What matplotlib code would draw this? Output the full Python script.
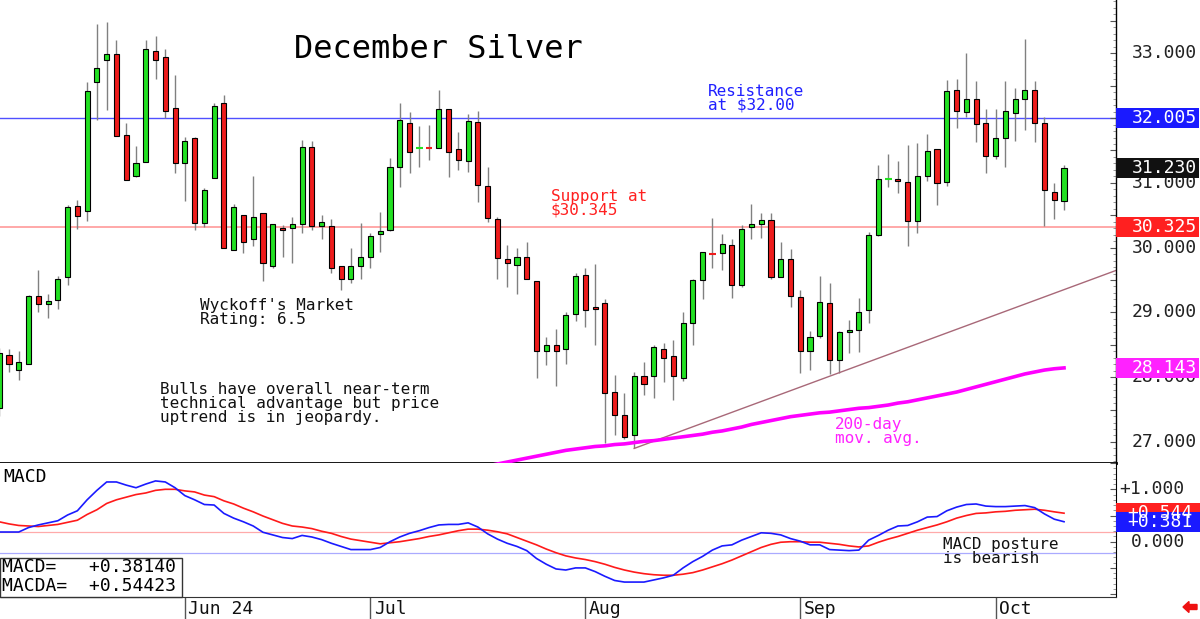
import matplotlib
matplotlib.use("Agg")
import matplotlib.pyplot as plt
from matplotlib.patches import Rectangle, FancyArrow
from matplotlib.ticker import MultipleLocator
from matplotlib.transforms import blended_transform_factory

# daily OHLC, one candle per trading day (early May .. Oct 10)
opens = [27.52, 28.34, 28.11, 28.21, 29.26, 29.13, 29.19, 29.55, 30.64, 30.56,
         32.56, 32.89, 32.99, 31.74, 31.10, 31.32, 33.04, 32.95, 32.16, 31.31,
         31.70, 30.38, 31.08, 32.23, 29.97, 30.50, 30.13, 30.54, 29.72, 30.31,
         30.30, 30.37, 31.56, 30.33, 30.34, 29.71, 29.51, 29.72, 29.86, 30.21,
         30.27, 31.25, 31.92, 31.54, 31.545, 31.54, 32.14, 31.52, 31.34, 31.94,
         30.95, 30.44, 29.82, 29.73, 29.86, 29.48, 28.40, 28.49, 28.44, 28.97,
         29.57, 29.08, 29.14, 27.77, 27.41, 27.10, 28.02, 28.02, 28.44, 28.33,
         27.99, 28.84, 29.50, 29.905, 29.91, 30.04, 29.42, 30.32, 30.37, 30.42,
         29.55, 29.83, 29.24, 28.40, 28.64, 29.15, 28.27, 28.69, 28.73, 29.03,
         30.19, 31.06, 31.06, 31.01, 30.41, 31.10, 31.53, 31.02, 32.43, 32.10,
         32.29, 31.93, 31.42, 31.70, 32.08, 32.30, 32.43, 31.93, 30.86, 30.72]
highs = [28.45, 28.43, 28.40, 29.27, 29.66, 29.28, 29.56, 30.66, 30.73, 32.56,
         33.45, 33.48, 33.20, 31.92, 31.57, 33.21, 33.27, 33.07, 32.67, 31.71,
         31.71, 30.92, 32.24, 32.35, 30.68, 30.51, 31.10, 30.54, 30.37, 30.35,
         30.48, 31.66, 31.65, 30.51, 30.44, 29.71, 29.99, 30.38, 30.22, 30.55,
         31.39, 32.24, 32.09, 31.88, 31.89, 32.44, 32.14, 31.78, 32.07, 32.11,
         31.25, 30.48, 30.04, 30.00, 30.08, 29.48, 28.62, 28.75, 29.00, 29.61,
         29.69, 29.74, 29.21, 28.04, 27.75, 28.08, 28.24, 28.50, 28.53, 28.58,
         29.00, 29.51, 29.94, 30.46, 30.21, 30.13, 30.35, 30.67, 30.54, 30.54,
         30.08, 29.98, 29.35, 28.71, 29.56, 29.46, 28.71, 28.89, 29.22, 30.24,
         31.28, 31.45, 31.34, 31.58, 31.61, 31.75, 31.53, 32.59, 32.60, 33.00,
         32.58, 32.14, 32.14, 32.58, 32.47, 33.22, 32.58, 32.01, 31.00, 31.27]
lows = [27.40, 28.08, 27.95, 28.20, 29.00, 28.92, 29.05, 29.42, 30.28, 30.41,
        31.97, 32.12, 31.73, 31.04, 31.09, 31.32, 32.60, 32.00, 31.15, 30.72,
        30.27, 30.32, 31.08, 29.99, 29.96, 29.91, 30.02, 29.48, 29.69, 29.86,
        29.76, 30.22, 30.27, 30.13, 29.61, 29.35, 29.45, 29.52, 29.68, 29.93,
        30.26, 30.94, 31.15, 31.24, 31.36, 31.54, 31.09, 31.20, 31.17, 30.71,
        30.39, 29.51, 29.39, 29.29, 29.51, 27.98, 28.19, 27.86, 28.20, 28.86,
        28.78, 28.50, 26.99, 27.11, 27.05, 26.90, 27.73, 27.68, 27.93, 27.65,
        27.94, 28.49, 29.21, 29.69, 29.65, 29.22, 29.39, 30.13, 30.15, 29.51,
        29.55, 29.09, 28.07, 28.11, 28.61, 28.05, 28.07, 28.37, 28.39, 28.84,
        30.18, 30.93, 30.85, 30.03, 30.22, 31.03, 30.66, 30.95, 31.85, 32.02,
        31.63, 31.15, 31.37, 31.25, 31.64, 31.82, 31.63, 30.33, 30.44, 30.58]
closes = [28.38, 28.20, 28.24, 29.26, 29.13, 29.18, 29.51, 30.62, 30.49, 32.42,
          32.78, 32.99, 31.73, 31.05, 31.30, 33.06, 32.89, 32.11, 31.30, 31.64,
          30.38, 30.89, 32.19, 29.99, 30.62, 30.09, 30.47, 29.77, 30.36, 30.27,
          30.37, 31.55, 30.34, 30.39, 29.68, 29.52, 29.71, 29.86, 30.18, 30.25,
          31.25, 31.97, 31.47, 31.545, 31.54, 32.14, 31.48, 31.35, 31.96, 30.96,
          30.46, 29.84, 29.77, 29.85, 29.51, 28.40, 28.49, 28.40, 28.96, 29.56,
          29.04, 29.05, 27.76, 27.42, 27.07, 28.02, 27.90, 28.46, 28.30, 28.02,
          28.84, 29.50, 29.93, 29.90, 30.05, 29.42, 30.29, 30.37, 30.43, 29.55,
          29.83, 29.25, 28.40, 28.62, 29.16, 28.27, 28.70, 28.73, 29.00, 30.20,
          31.06, 31.065, 31.03, 30.41, 31.10, 31.49, 31.00, 32.42, 32.11, 32.29,
          31.91, 31.42, 31.70, 32.11, 32.29, 32.43, 31.93, 30.89, 30.73, 31.23]

# 200-day moving average, from candle 50 on (earlier values sit below the panel)
ma_start = 50
ma200 = [26.63, 26.66, 26.69, 26.72, 26.75, 26.78, 26.81, 26.84, 26.87, 26.89,
         26.91, 26.93, 26.94, 26.96, 26.97, 26.99, 27.01, 27.02, 27.04, 27.06,
         27.08, 27.10, 27.12, 27.15, 27.17, 27.20, 27.23, 27.27, 27.30, 27.33,
         27.36, 27.39, 27.41, 27.43, 27.45, 27.46, 27.48, 27.50, 27.52, 27.53,
         27.55, 27.57, 27.60, 27.62, 27.65, 27.68, 27.71, 27.74, 27.77, 27.81,
         27.85, 27.89, 27.93, 27.97, 28.01, 28.05, 28.08, 28.11, 28.13, 28.143]

macd = [0.185, 0.185, 0.185, 0.27, 0.32, 0.36, 0.40, 0.51, 0.59, 0.80,
        0.98, 1.14, 1.14, 1.08, 1.03, 1.10, 1.16, 1.14, 1.03, 0.88,
        0.80, 0.71, 0.70, 0.54, 0.45, 0.38, 0.30, 0.18, 0.13, 0.08,
        0.06, 0.12, 0.09, 0.04, -0.03, -0.09, -0.15, -0.15, -0.15, -0.11,
        0.00, 0.09, 0.16, 0.21, 0.27, 0.32, 0.33, 0.33, 0.36, 0.28,
        0.15, 0.05, -0.03, -0.09, -0.17, -0.32, -0.43, -0.52, -0.54, -0.50,
        -0.50, -0.57, -0.66, -0.74, -0.77, -0.77, -0.77, -0.73, -0.69, -0.64,
        -0.50, -0.38, -0.28, -0.16, -0.08, -0.06, 0.03, 0.10, 0.17, 0.16,
        0.13, 0.06, 0.01, -0.06, -0.06, -0.15, -0.16, -0.17, -0.16, 0.03,
        0.12, 0.22, 0.30, 0.31, 0.38, 0.47, 0.48, 0.59, 0.66, 0.71,
        0.72, 0.68, 0.67, 0.67, 0.68, 0.69, 0.65, 0.53, 0.43, 0.3814]
macda = [0.38, 0.34, 0.31, 0.30, 0.29, 0.31, 0.33, 0.37, 0.41, 0.52,
         0.61, 0.73, 0.80, 0.85, 0.90, 0.93, 0.98, 1.00, 1.00, 0.97,
         0.95, 0.89, 0.86, 0.78, 0.72, 0.64, 0.57, 0.49, 0.42, 0.35,
         0.30, 0.28, 0.25, 0.20, 0.16, 0.10, 0.05, 0.02, -0.01, -0.04,
         -0.02, 0.00, 0.03, 0.06, 0.10, 0.13, 0.17, 0.21, 0.24, 0.24,
         0.22, 0.19, 0.15, 0.08, 0.01, -0.06, -0.14, -0.21, -0.27, -0.31,
         -0.34, -0.38, -0.43, -0.49, -0.54, -0.58, -0.61, -0.63, -0.64, -0.64,
         -0.62, -0.59, -0.54, -0.48, -0.42, -0.35, -0.27, -0.19, -0.11, -0.05,
         -0.01, 0.00, 0.00, -0.01, -0.01, -0.03, -0.05, -0.08, -0.10, -0.08,
         -0.01, 0.05, 0.10, 0.16, 0.22, 0.27, 0.32, 0.38, 0.45, 0.50,
         0.54, 0.55, 0.57, 0.58, 0.60, 0.61, 0.62, 0.60, 0.57, 0.54423]

month_pos = [19, 38, 60, 82, 102]
month_labels = ["Jun 24", "Jul", "Aug", "Sep", "Oct"]

resistance = 32.005
support = 30.325
trend_a, trend_b = 65, 86      # trend line drawn through these candle lows
price_labels = [27, 28, 29, 30, 31, 33]   # 32 sits under the resistance box
macd_labels = [1.0, 0.0]
macd_upper, macd_lower = 0.19, -0.22

W, H = 1200, 619
MONO = "DejaVu Sans Mono"
plt.rcParams["font.family"] = MONO

fig = plt.figure(figsize=(W / 100, H / 100), dpi=100)
fig.patch.set_facecolor("white")
ax = fig.add_axes([0, 156 / H, 1116 / W, 463 / H])
mx = fig.add_axes([0, 22 / H, 1116 / W, 134 / H])


def fx(px):
    return px / W


def fy(py):
    return 1 - py / H


# ---- price panel ----
n = len(closes)
xs = list(range(n))
up_col, dn_col = "#22e022", "#ee1c1c"
ax.vlines(xs, lows, highs, color="#808080", lw=1, zorder=2)
bx, bh, bb, bc, dx, dy, dc = [], [], [], [], [], [], []
for i in xs:
    o, c = opens[i], closes[i]
    col = up_col if c >= o else dn_col
    if abs(c - o) < 0.012:
        dx.append(i); dy.append(o); dc.append(col)
    else:
        bx.append(i); bh.append(abs(c - o)); bb.append(min(o, c)); bc.append(col)
ax.bar(bx, bh, bottom=bb, width=0.52, color=bc, edgecolor="black", lw=0.8, zorder=3)
for x, y, c in zip(dx, dy, dc):
    ax.hlines(y, x - 0.35, x + 0.35, color=c, lw=1.5, zorder=3)

ax.axhline(resistance, color="#5050ff", lw=1, zorder=1)
ax.axhline(support, color="#ff9a9a", lw=1.2, zorder=1)

slope = (lows[trend_b] - lows[trend_a]) / (trend_b - trend_a)
tx = [trend_a, 116]
ax.plot(tx, [lows[trend_a] + slope * (t - trend_a) for t in tx], color="#a86878", lw=1, zorder=2)

ax.plot(range(ma_start, ma_start + len(ma200)), ma200, color="#ff00ff", lw=2.6, zorder=4)

ax.set_xlim(0.08, 114.32)
ax.set_ylim(26.675, 33.823)
for s in ("top", "left"):
    ax.spines[s].set_visible(False)
ax.spines["bottom"].set_linewidth(2)
ax.spines["right"].set_linewidth(1)
ax.set_xticks([])
ax.yaxis.tick_right()
ax.yaxis.set_major_locator(MultipleLocator(0.5))
ax.yaxis.set_minor_locator(MultipleLocator(0.1))
ax.tick_params(axis="y", which="major", direction="in", length=4, labelright=False, color="#555555")
ax.tick_params(axis="y", which="minor", direction="in", length=2, color="#888888")

ty = blended_transform_factory(fig.transFigure, ax.transData)
for v in price_labels:
    ax.text(1197 / W, v, f"{v:.3f}", transform=ty, ha="right", va="center",
            fontsize=13, color="#222222", clip_on=False)

box_h = 0.31
for v, col in [(resistance, "#1a1aff"), (closes[-1], "#111111"),
               (support, "#ff2020"), (ma200[-1], "#ff22ff")]:
    ax.add_patch(Rectangle((1116 / W, v - box_h / 2), 83 / W, box_h, transform=ty,
                           facecolor=col, edgecolor="none", clip_on=False, zorder=6))
    ax.text(1197 / W, v, f"{v:.3f}", transform=ty, ha="right", va="center",
            fontsize=13, color="white", clip_on=False, zorder=7)

# ---- MACD panel ----
mx.plot(xs, macda, color="#ff1a1a", lw=1.2, zorder=3)
mx.plot(xs, macd, color="#1a1aff", lw=1.2, zorder=4)
mx.axhline(macd_upper, color="#ffaaaa", lw=0.9, zorder=1)
mx.axhline(macd_lower, color="#aaaaff", lw=0.9, zorder=1)
mx.set_xlim(0.08, 114.32)
mx.set_ylim(-1.055, 1.502)
for s in ("top", "left"):
    mx.spines[s].set_visible(False)
mx.spines["bottom"].set_color("#333333")
mx.yaxis.tick_right()
mx.yaxis.set_major_locator(MultipleLocator(0.5))
mx.yaxis.set_minor_locator(MultipleLocator(0.1))
mx.tick_params(axis="y", which="major", direction="in", length=4, labelright=False, color="#555555")
mx.tick_params(axis="y", which="minor", direction="in", length=2, color="#888888")
mx.set_xticks(month_pos)
mx.set_xticklabels([])
mx.tick_params(axis="x", direction="out", length=16, color="#555555", width=1)

mt = blended_transform_factory(fig.transFigure, mx.transData)
for v in macd_labels:
    mx.text(1185 / W, v, f"{v:+.3f}" if v else f"{v:.3f}", transform=mt, ha="right",
            va="center", fontsize=13, color="#222222", clip_on=False)
mbox = 0.38
for v, col in [(macda[-1], "#ff2020"), (macd[-1], "#1a1aff")]:
    mx.add_patch(Rectangle((1116 / W, v - mbox / 2), 84 / W, mbox, transform=mt,
                           facecolor=col, edgecolor="none", clip_on=False, zorder=6))
    mx.text(1192 / W, v, f"{v:+.3f}", transform=mt, ha="right", va="center",
            fontsize=13, color="white", clip_on=False, zorder=7)

dt = blended_transform_factory(mx.transData, fig.transFigure)
for p, lab in zip(month_pos, month_labels):
    mx.text(p + 0.35, fy(609), lab, transform=dt, ha="left", va="center",
            fontsize=13, color="#111111", clip_on=False)

# MACD readout box
fig.add_artist(Rectangle((0, fy(597)), fx(182), (597 - 557.5) / H, transform=fig.transFigure,
                         facecolor="white", edgecolor="#333333", lw=1))
fig.text(fx(2), fy(567), f"MACD=   {macd[-1]:+.5f}", fontsize=13, va="center", ha="left")
fig.text(fx(2), fy(586), f"MACDA=  {macda[-1]:+.5f}", fontsize=13, va="center", ha="left")
fig.text(fx(3), fy(477), "MACD", fontsize=13, va="center", ha="left")

# ---- annotations ----
fig.text(fx(438), fy(49), "December Silver", fontsize=23, ha="center", va="center")
kw = dict(fontsize=11.5, ha="left", va="top", linespacing=0.9)
fig.text(fx(708), fy(84), "Resistance\nat $32.00", color="#2020ff", **kw)
fig.text(fx(551), fy(189), "Support at\n$30.345", color="#ff2020", **kw)
fig.text(fx(200), fy(298), "Wyckoff's Market\nRating: 6.5", color="#111111", **kw)
fig.text(fx(160), fy(382), "Bulls have overall near-term\ntechnical advantage but price\n"
         "uptrend is in jeopardy.", color="#111111", **kw)
fig.text(fx(835), fy(417), "200-day\nmov. avg.", color="#ff22ff", **kw)
fig.text(fx(943), fy(537), "MACD posture\nis bearish", color="#111111", **kw)

fig.add_artist(FancyArrow(11.97, 0.12, -0.14, 0, width=0.05, head_width=0.11,
                          head_length=0.06, length_includes_head=True,
                          transform=fig.dpi_scale_trans, color="#ee1111"))

fig.savefig("out.png", dpi=100)
